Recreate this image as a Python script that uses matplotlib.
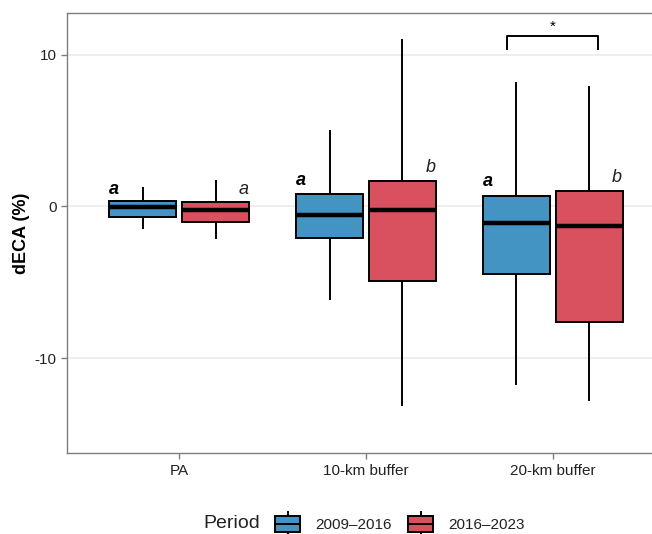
import matplotlib
matplotlib.use("Agg")
import matplotlib.pyplot as plt
from matplotlib.patches import Rectangle, Patch
from matplotlib.lines import Line2D
from matplotlib.legend_handler import HandlerBase

plt.rcParams.update({"font.family": ["Liberation Sans", "DejaVu Sans"], "font.size": 11})

# 数据
zones = ["PA", "10-km buffer", "20-km buffer"]
periods = ["2009–2016", "2016–2023"]
colors = ["#4393C3", "#D9515F"]

# 每组: 下须, 下四分位, 中位数, 上四分位, 上须
stats_0916 = [
    [-1.45, -0.7, -0.05, 0.33, 1.19],
    [-6.1, -2.1, -0.55, 0.85, 5.0],
    [-11.7, -4.45, -1.1, 0.7, 8.15],
]
stats_1623 = [
    [-2.05, -1.05, -0.2, 0.3, 1.65],
    [-13.1, -4.95, -0.2, 1.65, 11.0],
    [-12.8, -7.6, -1.3, 1.0, 7.9],
]

letters_0916 = ["a", "a", "a"]
letters_1623 = ["a", "b", "b"]
letter_y_0916 = [1.12, 1.72, 1.65]
letter_y_1623 = [1.12, 2.57, 1.91]

# 显著性标注 (20-km buffer)
sig_label = "*"
sig_y = 11.22


class BoxHandler(HandlerBase):
    def create_artists(self, legend, orig_handle, xdescent, ydescent,
                       width, height, fontsize, trans):
        x0, y0 = -xdescent, -ydescent
        r = Rectangle((x0, y0), width, height, facecolor=orig_handle.get_facecolor(),
                      edgecolor="black", lw=1.4, transform=trans)
        med = Line2D([x0, x0 + width], [y0 + height / 2] * 2, color="black", lw=1.4, transform=trans)
        wt = Line2D([x0 + width / 2] * 2, [y0 + height, y0 + height * 1.25], color="black", lw=1.4, transform=trans)
        wb = Line2D([x0 + width / 2] * 2, [y0, y0 - height * 0.25], color="black", lw=1.4, transform=trans)
        return [wt, wb, r, med]


fig = plt.figure(figsize=(6.52, 5.34), dpi=100)
ax = fig.add_axes([67 / 652, 81 / 534, 598 / 652, 440 / 534])

offset = 0.195
width = 0.358
positions = [1, 2, 3]

for stats_list, shift, col in [(stats_0916, -offset, colors[0]), (stats_1623, offset, colors[1])]:
    bstats = []
    for s in stats_list:
        bstats.append({"whislo": s[0], "q1": s[1], "med": s[2], "q3": s[3], "whishi": s[4], "fliers": []})
    ax.bxp(bstats, positions=[p + shift for p in positions], widths=width,
           showcaps=False, showfliers=False, patch_artist=True,
           boxprops=dict(facecolor=col, edgecolor="black", lw=1.4),
           whiskerprops=dict(color="black", lw=1.4),
           medianprops=dict(color="black", lw=3.2, solid_capstyle="butt"),
           zorder=3)

# 字母标注
for i, p in enumerate(positions):
    ax.text(p - offset - width / 2 + 0.025, letter_y_0916[i], letters_0916[i], ha="center", va="center",
            fontsize=13, fontweight="bold", fontstyle="italic", zorder=4)
    ax.text(p + offset + width / 2 - 0.03, letter_y_1623[i], letters_1623[i], ha="center", va="center",
            fontsize=13, fontstyle="italic", color="#222222", zorder=4)

# 显著性括号
x1, x2 = 3 - offset - 0.05, 3 + offset + 0.045
ax.plot([x1, x1, x2, x2], [sig_y - 0.8, sig_y, sig_y, sig_y - 0.8], color="black", lw=1.4)
ax.text(3, sig_y + 0.65, sig_label, ha="center", va="center", fontsize=11)

ax.set_xlim(0.4, 3.6)
ax.set_ylim(-16.27, 12.77)
ax.set_xticks(positions)
ax.set_xticklabels(zones)
ax.set_yticks([-10, 0, 10])
ax.set_yticklabels(["-10", "0", "10"])
ax.set_ylabel("dECA (%)", fontsize=13, fontweight="bold", labelpad=3)

ax.grid(axis="y", color="#EBEBEB", lw=1.2, zorder=0)
ax.set_axisbelow(True)
for sp in ax.spines.values():
    sp.set_color("#7F7F7F")
    sp.set_linewidth(1.0)
ax.tick_params(colors="#333333", length=4, width=1, labelsize=11, labelcolor="#222222")
ax.tick_params(axis="x", color="#7F7F7F", pad=4)
ax.tick_params(axis="y", color="#7F7F7F")

# 图例
fig.text(232 / 652, 1 - 524 / 534, "Period", ha="center", va="center", fontsize=14, color="#222222")
handles = [Patch(facecolor=c) for c in colors]
fig.legend(handles, periods, handler_map={Patch: BoxHandler()}, ncol=2, frameon=False,
           loc="center", bbox_to_anchor=(400 / 652, 1 - 524 / 534), fontsize=11,
           handlelength=1.65, handleheight=1.18, handletextpad=1.0, columnspacing=1.05,
           labelcolor="#222222")

fig.savefig("out.png", dpi=100)
